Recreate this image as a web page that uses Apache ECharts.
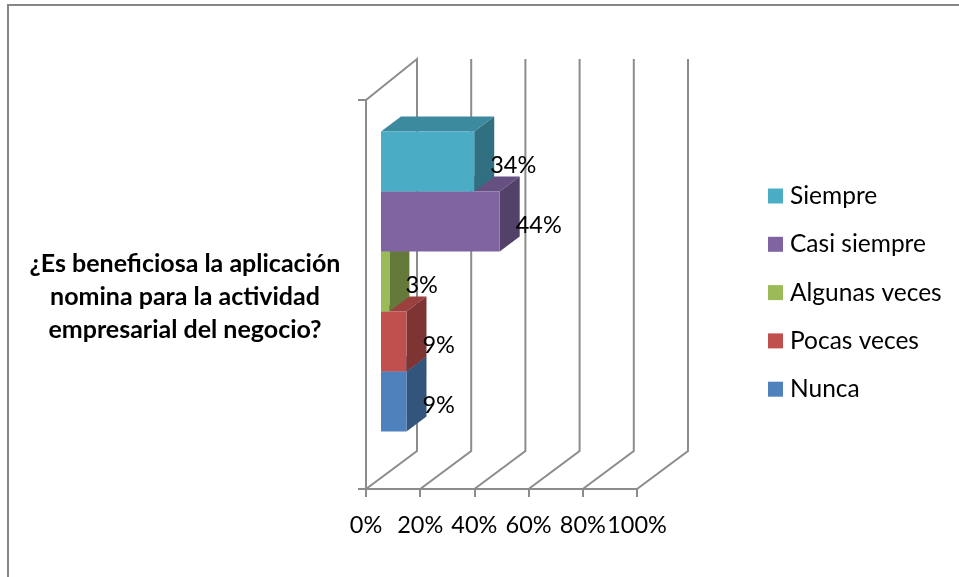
<!DOCTYPE html>
<html>
<head>
<meta charset="utf-8">
<style>
  html, body { margin: 0; padding: 0; background: #fff; overflow: hidden; }
  #chart { width: 959px; height: 577px; }
</style>
<script src="https://cdn.jsdelivr.net/npm/echarts@6/dist/echarts.min.js"></script>
</head>
<body>
<div id="chart"></div>
<script>
// orden de dibujo: de abajo hacia arriba
const seriesNames = ['Nunca', 'Pocas veces', 'Algunas veces', 'Casi siempre', 'Siempre']
const seriesValues = [9.4, 9.4, 3.1, 43.8, 34.4]
const seriesColors = ['#4F81BD', '#C0504D', '#9BBB59', '#8064A2', '#4BACC6']
const legendNames = ['Siempre', 'Casi siempre', 'Algunas veces', 'Pocas veces', 'Nunca']
const question = '¿Es beneficiosa la aplicación\nnomina para la actividad\nempresarial del negocio?'
const tickValues = [0, 20, 40, 60, 80, 100]

const FONT = 'Lato'
const LINE = '#8c8c8c'
// profundidad del piso / paredes
const WALL_DX = 51
const WALL_DY = 38
// profundidad de las barras
const BAR_X = 15
const BAR_LIFT = 13
const BAR_DX = 20
const BAR_DY = 15
const BAR_SHARE = 1 / 6.48

const shade = (hex, k) => {
  const n = parseInt(hex.slice(1), 16)
  const c = [n >> 16, (n >> 8) & 255, n & 255].map(v => Math.round(v * k))
  return `rgb(${c.join(',')})`
}

const poly = (points, fill) => ({
  type: 'polygon',
  shape: { points },
  style: { fill }
})

// paredes del fondo, una linea por cada tick
const renderWall = (params, api) => {
  const t = api.value(0)
  const base = api.coord([t, 0])
  const band = api.size([0, 1])[1]
  const x = base[0]
  const bottom = base[1] + band / 2
  const top = base[1] - band / 2
  const points = [[x, bottom], [x + WALL_DX, bottom - WALL_DY], [x + WALL_DX, top - WALL_DY - 3]]
  if (t === 0) points.push([x, top])
  return {
    type: 'polyline',
    shape: { points },
    style: { stroke: LINE, lineWidth: 2, fill: null }
  }
}

const renderBar = (index) => (params, api) => {
  const value = api.value(0)
  const center = api.coord([0, 0])
  const band = api.size([0, 1])[1]
  const h = band * BAR_SHARE
  const x0 = center[0] + BAR_X
  const x1 = api.coord([value, 0])[0] + BAR_X
  const y1 = center[1] - BAR_LIFT + h * 2.5 - index * h
  const y0 = y1 - h
  const color = seriesColors[index]
  return {
    type: 'group',
    children: [
      poly([[x0, y0], [x1, y0], [x1 + BAR_DX, y0 - BAR_DY], [x0 + BAR_DX, y0 - BAR_DY]], shade(color, 0.8)),
      poly([[x1, y0], [x1 + BAR_DX, y0 - BAR_DY], [x1 + BAR_DX, y1 - BAR_DY], [x1, y1]], shade(color, 0.65)),
      poly([[x0, y0], [x1, y0], [x1, y1], [x0, y1]], color)
    ]
  }
}

const renderLabel = (index) => (params, api) => {
  const value = api.value(0)
  const center = api.coord([0, 0])
  const h = api.size([0, 1])[1] * BAR_SHARE
  return {
    type: 'text',
    x: api.coord([value, 0])[0] + BAR_X + 16,
    y: center[1] - BAR_LIFT + h * 2 - index * h + 4,
    style: {
      text: Math.round(value) + '%',
      fill: '#000',
      font: `23.5px ${FONT}`,
      textAlign: 'left',
      textVerticalAlign: 'middle'
    }
  }
}

const chart = echarts.init(document.getElementById('chart'), null, { renderer: 'canvas' })

chart.setOption({
  backgroundColor: '#fff',
  animation: false,
  grid: { left: 366, top: 100, width: 271, height: 389 },
  graphic: [{
    type: 'polyline',
    silent: true,
    shape: { points: [[8, 577], [8, 5], [959, 5]] },
    style: { stroke: '#868686', lineWidth: 2, fill: null }
  }],
  legend: {
    data: legendNames,
    orient: 'vertical',
    left: 763,
    top: 178.5,
    itemWidth: 15,
    itemHeight: 15,
    itemGap: 23.3,
    icon: 'rect',
    textStyle: { fontFamily: FONT, fontSize: 24.5, lineHeight: 25, color: '#000', padding: [0, 0, 0, 2] }
  },
  xAxis: {
    type: 'value',
    min: 0,
    max: 100,
    interval: 20,
    splitLine: { show: false },
    axisLine: { show: true, lineStyle: { color: LINE, width: 2 } },
    axisTick: { show: true, length: 8, lineStyle: { color: LINE, width: 2 } },
    axisLabel: {
      margin: 24,
      fontFamily: FONT,
      fontSize: 23.5,
      color: '#000',
      formatter: v => v + '%',
      hideOverlap: false
    }
  },
  yAxis: {
    type: 'category',
    data: [question],
    axisLine: { show: true, lineStyle: { color: LINE, width: 2 } },
    axisTick: { show: true, length: 8, lineStyle: { color: LINE, width: 2 } },
    axisLabel: {
      margin: 181,
      align: 'center',
      color: '#000',
      // la linea vacia de arriba baja el texto unos pixeles
      formatter: v => '{gap|}\n' + v.split('\n').map(l => `{q|${l}}`).join('\n'),
      rich: {
        gap: { height: 5, lineHeight: 5, fontSize: 1 },
        q: { fontFamily: FONT, fontSize: 25, fontWeight: 'bold', lineHeight: 33, color: '#000', align: 'center' }
      }
    }
  },
  series: [
    {
      type: 'custom',
      silent: true,
      clip: false,
      z: 1,
      encode: { x: 0 },
      data: tickValues.map(t => [t]),
      renderItem: renderWall
    },
    ...seriesNames.map((name, i) => ({
      type: 'custom',
      name,
      silent: true,
      clip: false,
      z: 2,
      color: seriesColors[i],
      encode: { x: 0 },
      data: [[seriesValues[i]]],
      renderItem: renderBar(i)
    })),
    ...seriesNames.map((name, i) => ({
      type: 'custom',
      silent: true,
      clip: false,
      z: 3,
      encode: { x: 0 },
      data: [[seriesValues[i]]],
      renderItem: renderLabel(i)
    }))
  ]
})
</script>
</body>
</html>
